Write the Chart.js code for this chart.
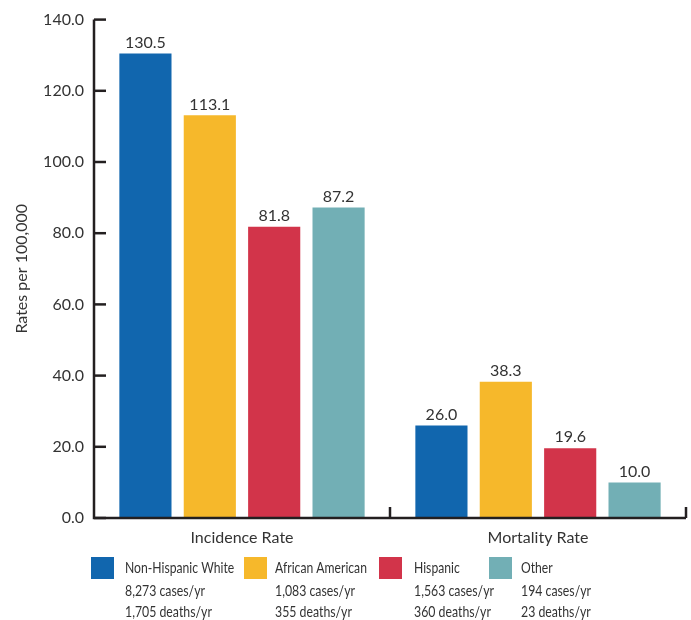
<!DOCTYPE html>
<html>
<head>
<meta charset="utf-8">
<script src="https://cdn.jsdelivr.net/npm/chart.js@4/dist/chart.umd.min.js"></script>
<style>
  html, body { margin: 0; padding: 0; background: #ffffff; }
  #wrap { position: relative; width: 691px; height: 620px; }
</style>
</head>
<body>
<div id="wrap"><canvas id="chart"></canvas></div>
<script>
// Rates per 100,000 by race/ethnicity
const categories = ["Incidence Rate", "Mortality Rate"];
const groups = ["Non-Hispanic White", "African American", "Hispanic", "Other"];
const whiteRates = [130.5, 26.0];
const africanAmericanRates = [113.1, 38.3];
const hispanicRates = [81.8, 19.6];
const otherRates = [87.2, 10.0];
const casesPerYear = ["8,273 cases/yr", "1,083 cases/yr", "1,563 cases/yr", "194 cases/yr"];
const deathsPerYear = ["1,705 deaths/yr", "355 deaths/yr", "360 deaths/yr", "23 deaths/yr"];
const yTicks = [0, 20, 40, 60, 80, 100, 120, 140];

const colors = ["#1166ae", "#f6b82b", "#d2344a", "#72afb5"];
const seriesValues = [whiteRates, africanAmericanRates, hispanicRates, otherRates];
const textColor = "#333333";
const axisColor = "#231f20";
const baseFont = "Lato, 'Open Sans', sans-serif";

// Value labels above each bar
const valueLabels = {
  id: "valueLabels",
  afterDatasetsDraw(chart) {
    const ctx = chart.ctx;
    ctx.save();
    ctx.font = "16px " + baseFont;
    ctx.fillStyle = textColor;
    ctx.textAlign = "center";
    ctx.textBaseline = "bottom";
    chart.data.datasets.forEach((ds, i) => {
      chart.getDatasetMeta(i).data.forEach((bar, j) => {
        ctx.fillText(ds.data[j].toFixed(1), bar.x, bar.y - 3);
      });
    });
    ctx.restore();
  }
};

// Axis lines with inward tick marks
const axisFrame = {
  id: "axisFrame",
  afterDraw(chart) {
    const ctx = chart.ctx;
    const a = chart.chartArea;
    const y = chart.scales.y;
    const x = chart.scales.x;
    ctx.save();
    ctx.strokeStyle = axisColor;
    ctx.lineWidth = 2.5;
    ctx.beginPath();
    ctx.moveTo(a.left, a.top);
    ctx.lineTo(a.left, a.bottom);
    ctx.lineTo(a.right, a.bottom);
    ctx.stroke();
    yTicks.forEach(v => {
      const py = y.getPixelForValue(v);
      ctx.beginPath();
      ctx.moveTo(a.left, py);
      ctx.lineTo(a.left + 12, py);
      ctx.stroke();
    });
    // category separators on the x axis
    for (let i = 1; i <= categories.length; i++) {
      const px = i < categories.length
        ? (x.getPixelForValue(i - 1) + x.getPixelForValue(i)) / 2
        : a.right;
      ctx.beginPath();
      ctx.moveTo(px, a.bottom);
      ctx.lineTo(px, a.bottom - 11);
      ctx.stroke();
    }
    ctx.restore();
  }
};

// Condensed text: draw horizontally squeezed
function narrowText(ctx, text, x, y, squeeze) {
  const w = ctx.measureText(text).width;
  ctx.fillText(text, x, y, w * squeeze);
}

// Legend with yearly case and death counts
const countLegend = {
  id: "countLegend",
  afterDraw(chart) {
    const ctx = chart.ctx;
    const boxX = [91, 244, 379, 489];
    const textX = [125, 275, 414, 521];
    ctx.save();
    ctx.textBaseline = "middle";
    ctx.textAlign = "left";
    chart.data.datasets.forEach((ds, i) => {
      ctx.fillStyle = ds.backgroundColor;
      ctx.fillRect(boxX[i], 557, 23, 22);
    });
    ctx.fillStyle = textColor;
    chart.data.datasets.forEach((ds, i) => {
      ctx.font = "16px " + baseFont;
      narrowText(ctx, ds.label, textX[i], 568, 0.76);
      ctx.font = "15px " + baseFont;
      narrowText(ctx, casesPerYear[i], textX[i], 591, 0.82);
      narrowText(ctx, deathsPerYear[i], textX[i], 612, 0.82);
    });
    ctx.restore();
  }
};

new Chart(document.getElementById("chart"), {
  type: "bar",
  data: {
    labels: categories,
    datasets: groups.map((g, i) => ({
      label: g,
      data: seriesValues[i],
      backgroundColor: colors[i],
      borderWidth: 0,
      categoryPercentage: 0.87,
      barPercentage: 0.81
    }))
  },
  options: {
    responsive: true,
    maintainAspectRatio: false,
    animation: false,
    layout: { padding: { left: 0, right: 5, top: 18, bottom: 0 } },
    plugins: {
      legend: { display: false },
      tooltip: { enabled: false }
    },
    scales: {
      x: {
        grid: { display: false, drawTicks: false },
        border: { display: false },
        ticks: {
          color: textColor,
          font: { family: baseFont, size: 16 },
          padding: 10
        },
        afterFit(scale) { scale.height = 102; }
      },
      y: {
        min: 0,
        max: 140,
        grid: { display: false, drawTicks: false },
        border: { display: false },
        afterBuildTicks(scale) { scale.ticks = yTicks.map(v => ({ value: v })); },
        ticks: {
          color: textColor,
          font: { family: baseFont, size: 16 },
          padding: 10,
          callback: v => Number(v).toFixed(1)
        },
        title: {
          display: true,
          text: "Rates per 100,000",
          color: textColor,
          font: { family: baseFont, size: 16 },
          padding: { top: 12, bottom: 0 }
        },
        afterFit(scale) { scale.width = 94; }
      }
    }
  },
  plugins: [valueLabels, axisFrame, countLegend]
});
</script>
</body>
</html>
